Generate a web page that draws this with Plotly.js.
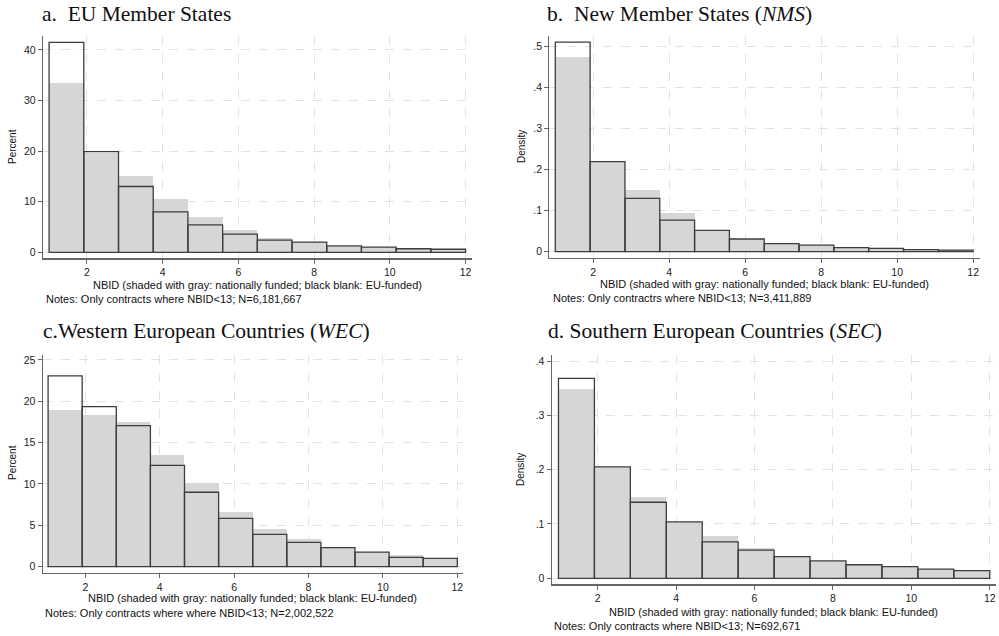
<!DOCTYPE html>
<html>
<head>
<meta charset="utf-8">
<script src="https://cdn.plot.ly/plotly-3.0.1.min.js"></script>
<style>html,body{margin:0;padding:0;background:#fff;}#chart{width:999px;height:636px;}</style>
</head>
<body>
<div id="chart"></div>
<script>
// Bin centers of NBID histogram (12 bins spanning 1..12)
const binCenters = [1.458, 2.375, 3.292, 4.208, 5.125, 6.042, 6.958, 7.875, 8.792, 9.708, 10.625, 11.542];

// a. EU Member States (Percent)
const aNational = [33.5, 19.7, 15.1, 10.5, 6.9, 4.4, 2.9, 2.0, 1.3, 1.0, 0.7, 0.6];
const aEU       = [41.5, 19.9, 13.0, 8.0, 5.4, 3.6, 2.4, 2.0, 1.25, 1.0, 0.7, 0.6];

// b. New Member States (Density)
const bNational = [0.475, 0.219, 0.150, 0.095, 0.052, 0.032, 0.020, 0.016, 0.010, 0.008, 0.005, 0.004];
const bEU       = [0.511, 0.2195, 0.130, 0.077, 0.052, 0.031, 0.0195, 0.016, 0.0098, 0.0083, 0.005, 0.004];

// c. Western European Countries (Percent)
const cNational = [18.9, 18.4, 17.5, 13.55, 10.1, 6.6, 4.55, 3.3, 2.4, 1.8, 1.37, 1.05];
const cEU       = [23.06, 19.35, 17.06, 12.26, 9.0, 5.85, 3.9, 2.95, 2.3, 1.77, 1.13, 1.0];

// d. Southern European Countries (Density)
const dNational = [0.348, 0.204, 0.1505, 0.104, 0.077, 0.055, 0.040, 0.032, 0.025, 0.0215, 0.017, 0.014];
const dEU       = [0.368, 0.205, 0.140, 0.104, 0.067, 0.052, 0.040, 0.032, 0.025, 0.0215, 0.017, 0.014];

// Tick labels
const xTicks = [2, 4, 6, 8, 10, 12];
const xTickText = ["2", "4", "6", "8", "10", "12"];
const percentTicksA = [0, 10, 20, 30, 40];
const percentTicksC = [0, 5, 10, 15, 20, 25];
const densityTicksB = [0, 0.1, 0.2, 0.3, 0.4, 0.5];
const densityTextB = ["0", ".1", ".2", ".3", ".4", ".5"];
const densityTicksD = [0, 0.1, 0.2, 0.3, 0.4];
const densityTextD = ["0", ".1", ".2", ".3", ".4"];

const panelTitles = [
  "a.  EU Member States",
  "b.  New Member States (<i>NMS</i>)",
  "c.Western European Countries (<i>WEC</i>)",
  "d. Southern European Countries (<i>SEC</i>)"
];
const yTitles = ["Percent", "Density", "Percent", "Density"];
const xTitle = "NBID (shaded with gray: nationally funded; black blank: EU-funded)";
const notes = [
  "Notes: Only contracts where NBID<13; N=6,181,667",
  "Notes: Only contractrs where NBID<13; N=3,411,889",
  "Notes: Only contracts where where NBID<13; N=2,002,522",
  "Notes: Only contracts where NBID<13; N=692,671"
];

const BIN_W = 11 / 12;
const GRAY = "#d6d6d6";
const OUTLINE = "#3c3c3c";

function pair(nat, eu, xa, ya) {
  return [
    {type: "bar", x: binCenters, y: nat, width: BIN_W, xaxis: xa, yaxis: ya,
     marker: {color: GRAY, line: {width: 0}}, showlegend: false, hoverinfo: "skip"},
    {type: "bar", x: binCenters, y: eu, width: BIN_W, xaxis: xa, yaxis: ya,
     marker: {color: "rgba(0,0,0,0)", line: {color: OUTLINE, width: 1.3}}, showlegend: false, hoverinfo: "skip"}
  ];
}

const data = [].concat(
  pair(aNational, aEU, "x", "y"),
  pair(bNational, bEU, "x2", "y2"),
  pair(cNational, cEU, "x3", "y3"),
  pair(dNational, dEU, "x4", "y4")
);

const W = 999, H = 636;
const tickFont = {family: "Liberation Sans, Arial, sans-serif", size: 10.5, color: "#222"};

function xAxis(left, right, range, anchor) {
  return {
    domain: [left / W, right / W], range: range, anchor: anchor,
    tickvals: xTicks, ticktext: xTickText, ticks: "outside", ticklen: 4, tickcolor: "#666",
    showline: true, linecolor: "#666", linewidth: 1.2,
    showgrid: true, gridcolor: "#e2e2e2", griddash: "dash", gridwidth: 1,
    zeroline: false, tickfont: tickFont, fixedrange: true
  };
}
function yAxis(top, bottom, range, vals, text, anchor) {
  return {
    domain: [1 - bottom / H, 1 - top / H], range: range, anchor: anchor,
    tickvals: vals, ticktext: text, ticks: "outside", ticklen: 4, tickcolor: "#666",
    showline: true, linecolor: "#666", linewidth: 1.2,
    showgrid: true, gridcolor: "#e2e2e2", griddash: "dash", gridwidth: 1,
    zeroline: false, tickfont: tickFont, fixedrange: true
  };
}

const annotations = [];
function addText(text, px, py, opts) {
  annotations.push(Object.assign({
    text: text, x: px / W, y: 1 - py / H, xref: "paper", yref: "paper",
    showarrow: false, xanchor: "left", yanchor: "middle"
  }, opts));
}
const serif = {family: "Liberation Serif, Times New Roman, serif", size: 21.5, color: "#111"};
const sans = {family: "Liberation Sans, Arial, sans-serif", size: 11, color: "#111"};
const sansY = {family: "Liberation Sans, Arial, sans-serif", size: 10, color: "#111"};

// panel titles
addText(panelTitles[0], 40, 14, {font: serif});
addText(panelTitles[1], 545, 14, {font: serif});
addText(panelTitles[2], 41, 331, {font: serif});
addText(panelTitles[3], 546, 331, {font: serif});
// y titles
addText(yTitles[0], 12, 147, {font: sansY, textangle: -90, xanchor: "center"});
addText(yTitles[1], 521, 147, {font: sansY, textangle: -90, xanchor: "center"});
addText(yTitles[2], 12, 463, {font: sansY, textangle: -90, xanchor: "center"});
addText(yTitles[3], 521, 470, {font: sansY, textangle: -90, xanchor: "center"});
// x titles
addText(xTitle, 257.5, 285, {font: sans, xanchor: "center"});
addText(xTitle, 764.5, 284, {font: sans, xanchor: "center"});
addText(xTitle, 252.7, 598, {font: sans, xanchor: "center"});
addText(xTitle, 773.8, 612, {font: sans, xanchor: "center"});
// notes
addText(notes[0], 44, 299, {font: sans});
addText(notes[1], 551, 298, {font: sans});
addText(notes[2], 43, 613, {font: sans});
addText(notes[3], 552, 626, {font: sans});

const layout = {
  width: W, height: H, margin: {l: 0, r: 0, t: 0, b: 0},
  paper_bgcolor: "#fff", plot_bgcolor: "#fff",
  barmode: "overlay", bargap: 0, showlegend: false,
  xaxis: xAxis(43, 472, [0.839, 12.17], "y"),
  yaxis: yAxis(36, 258.3, [-1.19, 42.75], percentTicksA, percentTicksA.map(String), "x"),
  xaxis2: xAxis(549.3, 980, [0.842, 12.18], "y2"),
  yaxis2: yAxis(36, 257.7, [-0.0146, 0.526], densityTicksB, densityTextB, "x2"),
  xaxis3: xAxis(42.7, 462.7, [0.855, 12.145], "y3"),
  yaxis3: yAxis(354.7, 572.7, [-0.726, 25.63], percentTicksC, percentTicksC.map(String), "x3"),
  xaxis4: xAxis(551.7, 996, [0.827, 12.16], "y4"),
  yaxis4: yAxis(354.7, 584.3, [-0.011, 0.4116], densityTicksD, densityTextD, "x4"),
  annotations: annotations
};

Plotly.newPlot("chart", data, layout, {staticPlot: true, displayModeBar: false});
</script>
</body>
</html>
